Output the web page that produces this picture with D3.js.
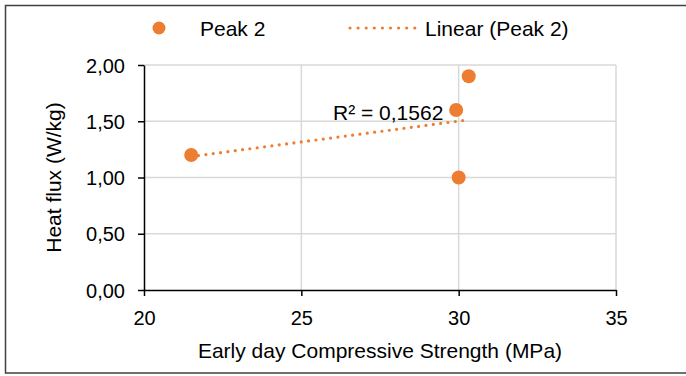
<!DOCTYPE html>
<html>
<head>
<meta charset="utf-8">
<script src="https://cdn.jsdelivr.net/npm/d3@7"></script>
<style>
  body { margin: 0; background: #fff; }
  svg { font-family: "Liberation Sans", Arial, sans-serif; }
</style>
</head>
<body>
<svg id="chartId" width="686" height="376"></svg>
<script>
// data
const strength = [21.5, 30.32, 29.92, 30.0];
const heatFlux = [1.2, 1.9, 1.6, 1.0];
const xTicks = [20, 25, 30, 35];
const yTicks = [0, 0.5, 1.0, 1.5, 2.0];
const seriesName = "Peak 2";
const trendName = "Linear (Peak 2)";
const r2Label = "R² = 0,1562";

const orange = "#ED7D31";
const svg = d3.select("#chartId");
const width = +svg.attr("width");
const height = +svg.attr("height");

const margin = { top: 65, right: 70, bottom: 86, left: 144 };
const innerWidth = width - margin.left - margin.right;
const innerHeight = height - margin.top - margin.bottom;

// outer border (right side runs past the window edge)
svg.append("path")
  .attr("d", `M${width},5.5 H5.5 V373 H${width}`)
  .attr("fill", "none")
  .attr("stroke", "#404040")
  .attr("stroke-width", 1.5);

const xScale = d3.scaleLinear().domain([20, 35]).range([0, innerWidth]);
const yScale = d3.scaleLinear().domain([0, 2]).range([innerHeight, 0]);

const g = svg.append("g")
  .attr("transform", `translate(${margin.left}, ${margin.top})`);

// grid
g.selectAll(".hgrid")
  .data(yTicks.slice(1))
  .enter().append("line")
  .attr("x1", 0).attr("x2", innerWidth)
  .attr("y1", d => yScale(d)).attr("y2", d => yScale(d))
  .attr("stroke", "#d9d9d9").attr("stroke-width", 1.5);

g.selectAll(".vgrid")
  .data(xTicks.slice(1))
  .enter().append("line")
  .attr("x1", d => xScale(d)).attr("x2", d => xScale(d))
  .attr("y1", 0).attr("y2", innerHeight)
  .attr("stroke", "#d9d9d9").attr("stroke-width", 1.5);

// axes
const fmt = d => d3.format(".2f")(d).replace(".", ",");

const xAxisG = g.append("g")
  .attr("transform", `translate(0, ${innerHeight})`)
  .call(d3.axisBottom(xScale).tickValues(xTicks).tickSize(6).tickSizeOuter(0).tickPadding(13));

const yAxisG = g.append("g")
  .call(d3.axisLeft(yScale).tickValues(yTicks).tickFormat(fmt).tickSize(6).tickSizeOuter(0).tickPadding(13));

[xAxisG, yAxisG].forEach(a => {
  a.attr("font-size", null).attr("font-family", null);
  a.selectAll("path, line").attr("stroke", "#000").attr("stroke-width", 1.5);
  a.selectAll("text").attr("fill", "#000").attr("font-size", 20).attr("dy", null);
});
xAxisG.selectAll(".tick text").attr("y", 35);
yAxisG.selectAll(".tick text").attr("y", 7);

// axis titles
svg.append("text")
  .attr("x", margin.left + innerWidth / 2)
  .attr("y", 358)
  .attr("text-anchor", "middle")
  .attr("font-size", 21)
  .text("Early day Compressive Strength (MPa)");

svg.append("text")
  .attr("transform", `translate(61, ${margin.top + innerHeight / 2}) rotate(-90)`)
  .attr("text-anchor", "middle")
  .attr("font-size", 21)
  .text("Heat flux (W/kg)");

// linear trendline (least squares)
const mx = d3.mean(strength), my = d3.mean(heatFlux);
const sxy = d3.sum(strength, (d, i) => (d - mx) * (heatFlux[i] - my));
const sxx = d3.sum(strength, d => (d - mx) * (d - mx));
const slope = sxy / sxx, intercept = my - slope * mx;
const xExt = d3.extent(strength);

g.append("line")
  .attr("x1", xScale(xExt[0])).attr("y1", yScale(slope * xExt[0] + intercept))
  .attr("x2", xScale(xExt[1])).attr("y2", yScale(slope * xExt[1] + intercept))
  .attr("stroke", orange).attr("stroke-width", 3.2)
  .attr("stroke-linecap", "round")
  .attr("stroke-dasharray", "0,7.4");

// points
g.selectAll("circle")
  .data(strength)
  .enter().append("circle")
  .attr("cx", d => xScale(d))
  .attr("cy", (d, i) => yScale(heatFlux[i]))
  .attr("r", 7)
  .attr("fill", orange);

// R² label
svg.append("text")
  .attr("x", 333).attr("y", 120)
  .attr("font-size", 21)
  .text(r2Label);

// legend
const lg = svg.append("g");
lg.append("circle").attr("cx", 159).attr("cy", 28).attr("r", 6.5).attr("fill", orange);
lg.append("text").attr("x", 200).attr("y", 35.5).attr("font-size", 21).text(seriesName);
lg.append("line")
  .attr("x1", 350).attr("x2", 415).attr("y1", 28).attr("y2", 28)
  .attr("stroke", orange).attr("stroke-width", 3.2)
  .attr("stroke-linecap", "round")
  .attr("stroke-dasharray", "0,8.1");
lg.append("text").attr("x", 425).attr("y", 35.5).attr("font-size", 21).text(trendName);
</script>
</body>
</html>
